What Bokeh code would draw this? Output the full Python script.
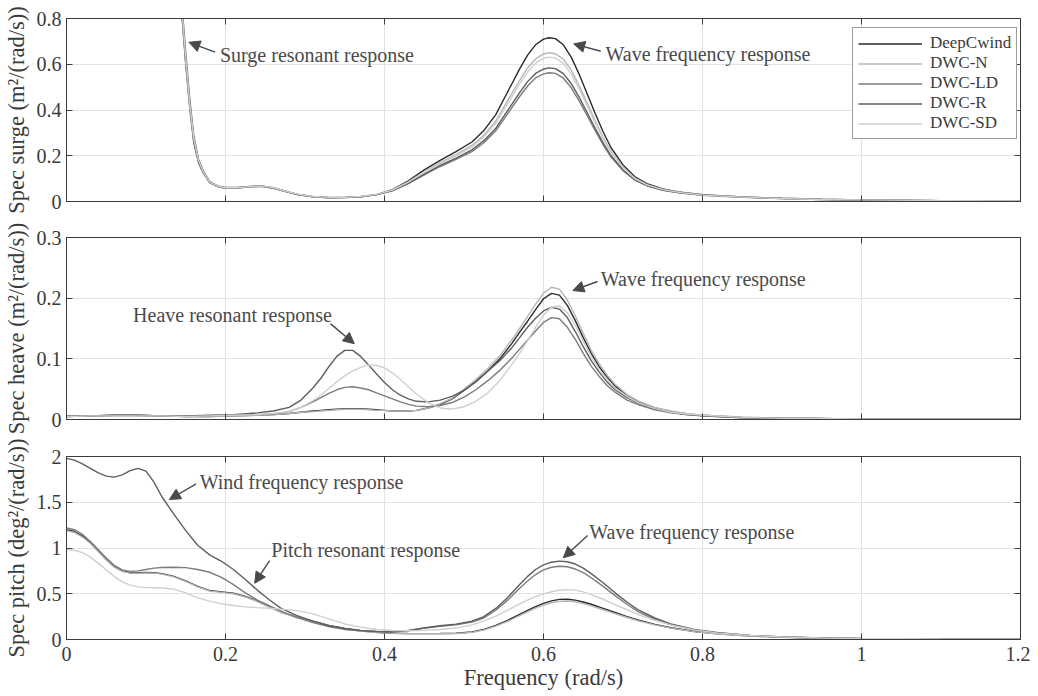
from bokeh.plotting import figure
from bokeh.models import (Range1d, FixedTicker, LinearAxis, Legend, LegendItem, Arrow,
                          NormalHead, Label, CustomJSTickFormatter)
from bokeh.layouts import column
from bokeh.embed import file_html
from bokeh.resources import INLINE

FONT = "Liberation Serif"

series_names = ["DeepCwind", "DWC-N", "DWC-LD", "DWC-R", "DWC-SD"]

# ---------------- Surge spectrum ----------------
freq_surge = [0.135, 0.145, 0.150, 0.155, 0.160, 0.166, 0.172, 0.180, 0.190, 0.200,
              0.215, 0.230, 0.245, 0.260, 0.275, 0.290, 0.310, 0.330, 0.350, 0.370,
              0.390, 0.410, 0.430, 0.450, 0.470, 0.490,
              0.510, 0.525, 0.540, 0.555, 0.570, 0.580, 0.590, 0.600, 0.607, 0.615,
              0.625, 0.635, 0.645, 0.655, 0.665, 0.675, 0.685, 0.700, 0.715, 0.730,
              0.750, 0.770, 0.800,
              0.850, 0.900, 0.950, 1.000, 1.100, 1.200]
surge_deep = [1.45, 0.82, 0.60, 0.41, 0.26, 0.17, 0.125, 0.082, 0.065, 0.058,
              0.059, 0.064, 0.066, 0.058, 0.044, 0.030, 0.020, 0.016, 0.017, 0.021,
              0.030, 0.052, 0.090, 0.138, 0.180, 0.218,
              0.260, 0.310, 0.380, 0.480, 0.580, 0.640, 0.685, 0.710, 0.716, 0.712,
              0.685, 0.630, 0.555, 0.470, 0.385, 0.305, 0.235, 0.160, 0.108, 0.078,
              0.055, 0.042, 0.030,
              0.020, 0.014, 0.010, 0.007, 0.004, 0.002]
surge_n = [1.47, 0.83, 0.61, 0.42, 0.27, 0.175, 0.128, 0.084, 0.066, 0.059,
           0.060, 0.065, 0.067, 0.059, 0.045, 0.031, 0.021, 0.017, 0.018, 0.022,
           0.031, 0.051, 0.086, 0.130, 0.170, 0.205,
           0.245, 0.290, 0.352, 0.442, 0.530, 0.584, 0.623, 0.645, 0.650, 0.646,
           0.622, 0.573, 0.506, 0.430, 0.353, 0.281, 0.218, 0.150, 0.102, 0.074,
           0.053, 0.041, 0.029,
           0.020, 0.014, 0.010, 0.007, 0.004, 0.002]
surge_ld = [1.49, 0.84, 0.62, 0.43, 0.28, 0.18, 0.130, 0.086, 0.067, 0.060,
            0.060, 0.065, 0.067, 0.059, 0.045, 0.031, 0.021, 0.017, 0.018, 0.021,
            0.030, 0.047, 0.078, 0.116, 0.153, 0.184,
            0.218, 0.257, 0.309, 0.384, 0.459, 0.505, 0.540, 0.558, 0.563, 0.560,
            0.539, 0.497, 0.439, 0.375, 0.310, 0.248, 0.194, 0.135, 0.093, 0.069,
            0.049, 0.038, 0.027,
            0.018, 0.013, 0.009, 0.006, 0.004, 0.002]
surge_r = [1.52, 0.87, 0.65, 0.45, 0.29, 0.185, 0.134, 0.088, 0.068, 0.061,
           0.061, 0.066, 0.068, 0.060, 0.046, 0.032, 0.022, 0.018, 0.018, 0.021,
           0.030, 0.048, 0.080, 0.120, 0.158, 0.190,
           0.226, 0.266, 0.320, 0.398, 0.476, 0.524, 0.560, 0.579, 0.584, 0.581,
           0.559, 0.515, 0.455, 0.388, 0.320, 0.256, 0.200, 0.139, 0.095, 0.070,
           0.050, 0.039, 0.028,
           0.019, 0.013, 0.009, 0.006, 0.004, 0.002]
surge_sd = [1.50, 0.85, 0.63, 0.43, 0.28, 0.18, 0.131, 0.086, 0.067, 0.060,
            0.060, 0.065, 0.067, 0.060, 0.046, 0.032, 0.022, 0.018, 0.018, 0.022,
            0.031, 0.050, 0.085, 0.128, 0.166, 0.200,
            0.238, 0.282, 0.342, 0.428, 0.514, 0.566, 0.605, 0.626, 0.631, 0.627,
            0.604, 0.556, 0.491, 0.418, 0.343, 0.274, 0.213, 0.147, 0.100, 0.073,
            0.052, 0.040, 0.028,
            0.019, 0.013, 0.009, 0.007, 0.004, 0.002]

# ---------------- Heave spectrum ----------------
freq_heave = [0.00, 0.03, 0.06, 0.09, 0.12, 0.15, 0.18, 0.21, 0.24,
              0.26, 0.28, 0.295,
              0.31, 0.32, 0.33, 0.34, 0.35, 0.36, 0.37, 0.38, 0.39, 0.40, 0.41, 0.42, 0.43, 0.44,
              0.455, 0.47, 0.485, 0.50, 0.515, 0.53, 0.545,
              0.56, 0.57, 0.58, 0.59, 0.60, 0.61, 0.62, 0.63, 0.64, 0.65, 0.66, 0.67, 0.68, 0.69,
              0.705, 0.72, 0.74, 0.76, 0.78, 0.80,
              0.85, 0.90, 1.00, 1.10, 1.20]
heave_deep = [0.005, 0.006, 0.007, 0.007, 0.006, 0.005, 0.005, 0.006, 0.007,
              0.008, 0.010, 0.012,
              0.014, 0.015, 0.016, 0.017, 0.018, 0.018, 0.018, 0.017, 0.016, 0.015, 0.014, 0.014, 0.014, 0.015,
              0.019, 0.025, 0.034, 0.048, 0.063, 0.080, 0.100,
              0.125, 0.144, 0.162, 0.181, 0.199, 0.208, 0.205, 0.188, 0.163, 0.135, 0.109, 0.087, 0.070, 0.055,
              0.040, 0.029, 0.019, 0.013, 0.009, 0.007,
              0.0035, 0.002, 0.001, 0.0005, 0.0003]
heave_n = [0.005, 0.006, 0.007, 0.007, 0.006, 0.005, 0.005, 0.006, 0.007,
           0.008, 0.010, 0.012,
           0.013, 0.014, 0.015, 0.016, 0.017, 0.017, 0.017, 0.016, 0.015, 0.015, 0.014, 0.014, 0.014, 0.015,
           0.019, 0.026, 0.035, 0.050, 0.066, 0.084, 0.105,
           0.131, 0.150, 0.170, 0.190, 0.208, 0.218, 0.215, 0.197, 0.171, 0.142, 0.114, 0.092, 0.073, 0.058,
           0.041, 0.030, 0.020, 0.014, 0.010, 0.007,
           0.004, 0.002, 0.001, 0.0005, 0.0003]
heave_ld = [0.005, 0.006, 0.006, 0.006, 0.006, 0.005, 0.006, 0.007, 0.008,
            0.009, 0.013, 0.020,
            0.029, 0.036, 0.043, 0.049, 0.053, 0.054, 0.052, 0.049, 0.044, 0.039, 0.034, 0.029, 0.025, 0.022,
            0.021, 0.023, 0.028, 0.037, 0.049, 0.064, 0.081,
            0.101, 0.116, 0.131, 0.146, 0.160, 0.168, 0.166, 0.152, 0.132, 0.109, 0.088, 0.071, 0.056, 0.045,
            0.032, 0.024, 0.016, 0.011, 0.008, 0.006,
            0.003, 0.002, 0.001, 0.0005, 0.0003]
heave_r = [0.006, 0.006, 0.007, 0.007, 0.006, 0.006, 0.007, 0.008, 0.011,
           0.014, 0.020, 0.032,
           0.052, 0.068, 0.087, 0.104, 0.114, 0.114, 0.104, 0.090, 0.075, 0.061, 0.049, 0.040, 0.034, 0.030,
           0.029, 0.032, 0.038, 0.048, 0.062, 0.080, 0.097,
           0.118, 0.135, 0.152, 0.167, 0.179, 0.185, 0.182, 0.168, 0.145, 0.120, 0.097, 0.078, 0.062, 0.049,
           0.036, 0.026, 0.017, 0.012, 0.008, 0.006,
           0.003, 0.002, 0.001, 0.0005, 0.0003]
heave_sd = [0.005, 0.006, 0.006, 0.006, 0.006, 0.005, 0.006, 0.007, 0.008,
            0.010, 0.013, 0.020,
            0.031, 0.040, 0.051, 0.062, 0.072, 0.080, 0.086, 0.090, 0.089, 0.085, 0.077, 0.066, 0.054, 0.042,
            0.028, 0.019, 0.017, 0.021, 0.030, 0.044, 0.064,
            0.090, 0.109, 0.130, 0.152, 0.172, 0.185, 0.187, 0.176, 0.155, 0.129, 0.104, 0.083, 0.066, 0.052,
            0.038, 0.027, 0.018, 0.012, 0.009, 0.007,
            0.0035, 0.002, 0.001, 0.0005, 0.0003]

# ---------------- Pitch spectrum ----------------
freq_pitch = [0.000, 0.010, 0.020, 0.030, 0.040, 0.050, 0.060, 0.070, 0.080, 0.090, 0.100, 0.110, 0.120,
              0.135, 0.150, 0.165, 0.180, 0.195, 0.210, 0.225, 0.240, 0.255, 0.270,
              0.290, 0.310, 0.330, 0.350, 0.370, 0.390, 0.410, 0.430, 0.450, 0.470, 0.490,
              0.510, 0.525, 0.540, 0.555,
              0.570, 0.580, 0.590, 0.600, 0.610, 0.620, 0.630, 0.640, 0.650, 0.660,
              0.675, 0.690, 0.705, 0.720,
              0.740, 0.760, 0.790, 0.820, 0.860, 0.900, 0.950, 1.000, 1.100, 1.200]
pitch_deep = [1.20, 1.18, 1.13, 1.06, 0.97, 0.88, 0.80, 0.75, 0.73, 0.73, 0.733, 0.73, 0.72,
              0.69, 0.64, 0.58, 0.535, 0.52, 0.505, 0.47, 0.42, 0.36, 0.30,
              0.245, 0.20, 0.155, 0.12, 0.095, 0.078, 0.068, 0.065, 0.064, 0.065, 0.068,
              0.082, 0.11, 0.155, 0.21,
              0.275, 0.318, 0.36, 0.395, 0.422, 0.438, 0.44, 0.43, 0.41, 0.385,
              0.34, 0.295, 0.25, 0.21,
              0.165, 0.128, 0.088, 0.061, 0.039, 0.025, 0.016, 0.010, 0.005, 0.003]
pitch_n = [1.19, 1.17, 1.12, 1.05, 0.96, 0.87, 0.79, 0.745, 0.725, 0.725, 0.728, 0.725, 0.715,
           0.685, 0.635, 0.575, 0.53, 0.515, 0.50, 0.465, 0.415, 0.355, 0.295,
           0.24, 0.195, 0.15, 0.115, 0.092, 0.076, 0.067, 0.064, 0.063, 0.063, 0.066,
           0.078, 0.104, 0.147, 0.199,
           0.26, 0.302, 0.342, 0.376, 0.402, 0.417, 0.42, 0.411, 0.392, 0.368,
           0.325, 0.282, 0.24, 0.202,
           0.16, 0.124, 0.086, 0.06, 0.038, 0.025, 0.016, 0.010, 0.005, 0.003]
pitch_ld = [1.22, 1.20, 1.15, 1.07, 0.98, 0.89, 0.81, 0.76, 0.745, 0.75, 0.765, 0.78, 0.787,
            0.79, 0.785, 0.765, 0.735, 0.68, 0.60, 0.51, 0.43, 0.37, 0.31,
            0.24, 0.185, 0.14, 0.11, 0.095, 0.087, 0.086, 0.10, 0.125, 0.145, 0.16,
            0.19, 0.235, 0.32, 0.43,
            0.56, 0.64, 0.71, 0.76, 0.79, 0.80, 0.795, 0.77, 0.73, 0.675,
            0.58, 0.48, 0.385, 0.30,
            0.22, 0.16, 0.105, 0.072, 0.044, 0.028, 0.017, 0.011, 0.005, 0.003]
pitch_r = [1.98, 1.96, 1.92, 1.87, 1.82, 1.785, 1.775, 1.80, 1.845, 1.87, 1.84, 1.72, 1.56,
           1.37, 1.19, 1.03, 0.925, 0.855, 0.765, 0.655, 0.54, 0.435, 0.34,
           0.26, 0.20, 0.15, 0.12, 0.10, 0.088, 0.082, 0.095, 0.125, 0.150, 0.168,
           0.20, 0.25, 0.34, 0.46,
           0.60, 0.69, 0.765, 0.815, 0.845, 0.857, 0.85, 0.825, 0.78, 0.72,
           0.62, 0.51, 0.41, 0.32,
           0.235, 0.17, 0.11, 0.075, 0.045, 0.028, 0.017, 0.011, 0.005, 0.003]
pitch_sd = [0.98, 0.975, 0.95, 0.90, 0.835, 0.76, 0.69, 0.63, 0.595, 0.575, 0.567, 0.565, 0.563,
            0.55, 0.51, 0.455, 0.42, 0.39, 0.372, 0.357, 0.348, 0.342, 0.332,
            0.315, 0.28, 0.225, 0.17, 0.135, 0.11, 0.098, 0.095, 0.10, 0.11, 0.125,
            0.16, 0.20, 0.255, 0.32,
            0.39, 0.43, 0.468, 0.498, 0.522, 0.538, 0.545, 0.54, 0.52, 0.49,
            0.44, 0.38, 0.325, 0.27,
            0.21, 0.16, 0.105, 0.07, 0.044, 0.028, 0.017, 0.011, 0.005, 0.003]

x_ticks = [0, 0.2, 0.4, 0.6, 0.8, 1, 1.2]
surge_ticks = [0, 0.2, 0.4, 0.6, 0.8]
heave_ticks = [0, 0.1, 0.2, 0.3]
pitch_ticks = [0, 0.5, 1, 1.5, 2]

colors = ["#2a2a2a", "#b5b5b5", "#7c7c7c", "#5e5e5e", "#cfcfcf"]

AX = "#3c3c3c"
TXT = "#3a3a3a"
ANN = "#4a4a4a"


def fmt(show):
    if show:
        return CustomJSTickFormatter(code="return String(tick);")
    return CustomJSTickFormatter(code="return '';")


def make_fig(height, top, bottom, ymax, yticks, ylabel, xlabels):
    p = figure(width=1030, height=height, output_backend="svg", toolbar_location=None,
               x_range=Range1d(0, 1.2), y_range=Range1d(0, ymax),
               min_border_left=65, min_border_right=10, min_border_top=top,
               min_border_bottom=bottom, x_axis_location=None, y_axis_location=None)
    p.outline_line_color = AX
    p.outline_line_width = 1
    p.background_fill_color = "white"
    p.border_fill_color = "white"

    xb = LinearAxis(ticker=FixedTicker(ticks=x_ticks))
    xt = LinearAxis(ticker=FixedTicker(ticks=x_ticks))
    yl = LinearAxis(ticker=FixedTicker(ticks=yticks))
    yr = LinearAxis(ticker=FixedTicker(ticks=yticks))
    for ax, lab in ((xb, xlabels), (xt, False), (yl, True), (yr, False)):
        ax.axis_line_color = AX
        ax.major_tick_line_color = AX
        ax.major_tick_in = 6
        ax.major_tick_out = 0
        ax.minor_tick_line_color = None
        ax.major_label_text_font = FONT
        ax.major_label_text_font_size = "20px"
        ax.major_label_text_color = TXT
        ax.axis_label_text_font = FONT
        ax.axis_label_text_font_size = "22.5px"
        ax.axis_label_text_font_style = "normal"
        ax.axis_label_text_color = TXT
        ax.formatter = fmt(lab)
        ax.major_label_standoff = 0
    yl.major_label_standoff = 5
    yl.axis_label = ylabel
    yl.axis_label_standoff = 5
    if xlabels:
        xb.axis_label = "Frequency (rad/s)"
        xb.major_label_standoff = 7
        xb.axis_label_standoff = 1
    p.add_layout(xb, "below")
    p.add_layout(xt, "above")
    p.add_layout(yl, "left")
    p.add_layout(yr, "right")

    p.xgrid.ticker = FixedTicker(ticks=x_ticks)
    p.ygrid.ticker = FixedTicker(ticks=yticks)
    p.grid.grid_line_color = "#e3e3e3"
    p.grid.grid_line_width = 1
    return p


def arrow(p, x0, y0, x1, y1):
    p.add_layout(Arrow(x_start=x0, y_start=y0, x_end=x1, y_end=y1,
                       line_color=ANN, line_width=1.4,
                       end=NormalHead(size=11, fill_color=ANN, line_color=ANN, line_width=1)))


def note(p, x, y, text):
    p.add_layout(Label(x=x, y=y, text=text, text_font=FONT, text_font_size="20px",
                       text_color=ANN, text_baseline="middle", text_align="left"))


# ---- panel 1: surge
p1 = make_fig(219, 18, 18, 0.8, surge_ticks, "Spec surge (m²/(rad/s))", False)
renderers = []
for name, ys, c in zip(series_names, [surge_deep, surge_n, surge_ld, surge_r, surge_sd], colors):
    renderers.append(p1.line(freq_surge, ys, line_color=c, line_width=1.4))
legend = Legend(items=[LegendItem(label=n, renderers=[r]) for n, r in zip(series_names, renderers)],
                location=(786, 62), margin=0, padding=5, spacing=0, glyph_width=64,
                glyph_height=19, label_height=19, label_standoff=8,
                label_text_font=FONT, label_text_font_size="17px", label_text_color=TXT,
                border_line_color=AX, border_line_width=1, background_fill_alpha=1)
p1.add_layout(legend)
note(p1, 0.193, 0.640, "Surge resonant response")
arrow(p1, 0.187, 0.653, 0.154, 0.696)
note(p1, 0.678, 0.646, "Wave frequency response")
arrow(p1, 0.672, 0.657, 0.638, 0.689)

# ---- panel 2: heave
p2 = make_fig(218, 18, 18, 0.3, heave_ticks, "Spec heave (m²/(rad/s))", False)
for ys, c in zip([heave_deep, heave_n, heave_ld, heave_r, heave_sd], colors):
    p2.line(freq_heave, ys, line_color=c, line_width=1.4)
note(p2, 0.672, 0.231, "Wave frequency response")
arrow(p2, 0.668, 0.2275, 0.637, 0.2126)
note(p2, 0.0838, 0.173, "Heave resonant response")
arrow(p2, 0.332, 0.158, 0.362, 0.125)

# ---- panel 3: pitch
p3 = make_fig(259, 19, 57, 2.0, pitch_ticks, "Spec pitch (deg²/(rad/s))", True)
for ys, c in zip([pitch_deep, pitch_n, pitch_ld, pitch_r, pitch_sd], colors):
    p3.line(freq_pitch, ys, line_color=c, line_width=1.4)
note(p3, 0.1676, 1.72, "Wind frequency response")
arrow(p3, 0.163, 1.70, 0.1294, 1.53)
note(p3, 0.2576, 0.973, "Pitch resonant response")
arrow(p3, 0.2555, 0.863, 0.2367, 0.615)
note(p3, 0.6576, 1.173, "Wave frequency response")
arrow(p3, 0.6555, 1.137, 0.625, 0.893)

layout = column(p1, p2, p3, spacing=0)
open("out.html", "w").write(file_html(layout, INLINE))
